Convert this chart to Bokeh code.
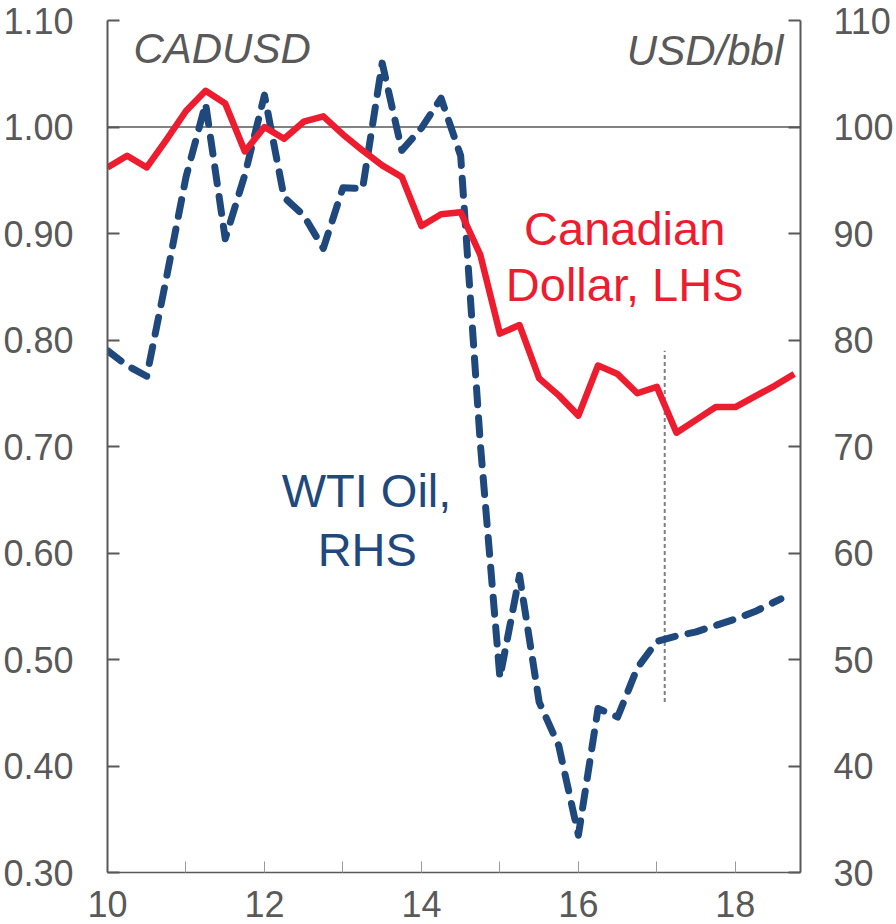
from bokeh.plotting import figure
from bokeh.models import LinearAxis, Range1d, FixedTicker, Span, Label, NumeralTickFormatter
from bokeh.embed import file_html
from bokeh.resources import INLINE

# ---- data (decimal years, quarterly) ----
cad_x = [10.00, 10.25, 10.50, 10.75, 11.00, 11.25, 11.50, 11.75,
         12.00, 12.25, 12.50, 12.75, 13.00, 13.25, 13.50, 13.75,
         14.00, 14.25, 14.50, 14.75, 15.00, 15.25, 15.50, 15.75,
         16.00, 16.25, 16.50, 16.75, 17.00, 17.25, 17.50, 17.75,
         18.00, 18.25, 18.50, 18.75]
cad_usd = [0.962, 0.973, 0.962, 0.988, 1.015, 1.034, 1.022, 0.977,
           1.000, 0.989, 1.005, 1.010, 0.993, 0.978, 0.964, 0.953,
           0.907, 0.918, 0.920, 0.880, 0.806, 0.814, 0.764, 0.748,
           0.729, 0.776, 0.768, 0.750, 0.756, 0.713, 0.725, 0.737,
           0.737, 0.747, 0.757, 0.768]

wti_x = [10.00, 10.25, 10.50, 10.75, 11.00, 11.25, 11.50, 11.75,
         12.00, 12.25, 12.50, 12.75, 13.00, 13.25, 13.50, 13.75,
         14.00, 14.25, 14.50, 14.75, 15.00, 15.25, 15.50, 15.75,
         16.00, 16.25, 16.50, 16.75, 17.00, 17.25, 17.50, 17.75,
         18.00, 18.25, 18.58]
wti_oil = [79.0, 77.6, 76.6, 85.8, 95.3, 102.2, 89.5, 95.5,
           103.0, 93.4, 91.7, 88.6, 94.3, 94.2, 106.0, 97.8,
           99.9, 102.7, 97.3, 70.3, 48.3, 57.9, 46.0, 41.9,
           33.5, 45.4, 44.6, 49.2, 51.7, 52.2, 52.6, 53.2,
           53.8, 54.5, 55.7]

x_ticks = [10, 11, 12, 13, 14, 15, 16, 17, 18]
x_tick_labels = {10: "10", 11: "", 12: "12", 13: "", 14: "14",
                 15: "", 16: "16", 17: "", 18: "18"}
left_ticks = [0.30, 0.40, 0.50, 0.60, 0.70, 0.80, 0.90, 1.00, 1.10]
right_ticks = [30, 40, 50, 60, 70, 80, 90, 100, 110]

forecast_x = [17.1]
forecast_y0 = [0.46]
forecast_y1 = [0.79]

RED = "#ED1C2E"
BLUE = "#1F497D"
GRAY = "#595959"
FONT = "Liberation Sans"

p = figure(width=896, height=924,
           x_range=Range1d(10, 18.83), y_range=Range1d(0.30, 1.10),
           output_backend="svg", toolbar_location=None,
           min_border_left=107, min_border_right=94,
           min_border_top=20, min_border_bottom=52)
p.extra_y_ranges = {"oil": Range1d(30, 110)}
p.outline_line_color = None
p.xgrid.visible = False
p.ygrid.visible = False

left = p.yaxis[0]
bottom = p.xaxis[0]
right = LinearAxis(y_range_name="oil")
p.add_layout(right, "right")

bottom.ticker = FixedTicker(ticks=x_ticks)
bottom.major_label_overrides = x_tick_labels
left.ticker = FixedTicker(ticks=left_ticks)
left.formatter = NumeralTickFormatter(format="0.00")
right.ticker = FixedTicker(ticks=right_ticks)

for ax in [bottom, left, right]:
    ax.axis_line_color = GRAY
    ax.axis_line_width = 2
    ax.major_tick_in = 12
    ax.major_tick_out = 0
    ax.minor_tick_in = 0
    ax.minor_tick_out = 0
    ax.major_tick_line_color = GRAY
    ax.major_tick_line_width = 2
    ax.major_label_text_font = FONT
    ax.major_label_text_font_size = "36px"
    ax.major_label_text_color = GRAY

bottom.axis_line_width = 1.5
bottom.major_tick_line_width = 1
bottom.major_tick_line_color = "#9a9a9a"
bottom.major_tick_in = 11

bottom.major_label_standoff = 18
left.major_label_standoff = 34
right.major_label_standoff = 33

p.add_layout(Span(location=1.0, dimension="width", line_color=GRAY,
                  line_width=1.5, level="underlay"))

p.segment(x0=forecast_x, y0=forecast_y0, x1=forecast_x, y1=forecast_y1,
          line_color="#808080", line_width=2, line_dash="4 3")

p.line(wti_x, wti_oil, y_range_name="oil", line_color=BLUE, line_width=7,
       line_dash="17 13", line_cap="round", line_join="round")
p.line(cad_x, cad_usd, line_color=RED, line_width=6.5, line_join="round")

p.add_layout(Label(x=10.33, y=1.074, text="CADUSD", text_font=FONT,
                   text_font_size="42px", text_font_style="italic",
                   text_color=GRAY, text_baseline="alphabetic"))
p.add_layout(Label(x=18.61, y=1.072, text="USD/bbl", text_font=FONT,
                   text_font_size="42px", text_font_style="italic",
                   text_color=GRAY, text_align="right", text_baseline="alphabetic"))
p.add_layout(Label(x=16.59, y=0.905, text="Canadian", text_font=FONT,
                   text_font_size="47px", text_color=RED,
                   text_align="center", text_baseline="alphabetic"))
p.add_layout(Label(x=16.59, y=0.852, text="Dollar, LHS", text_font=FONT,
                   text_font_size="47px", text_color=RED,
                   text_align="center", text_baseline="alphabetic"))
p.add_layout(Label(x=13.30, y=0.659, text="WTI Oil,", text_font=FONT,
                   text_font_size="47px", text_color=BLUE,
                   text_align="center", text_baseline="alphabetic"))
p.add_layout(Label(x=13.31, y=0.603, text="RHS", text_font=FONT,
                   text_font_size="47px", text_color=BLUE,
                   text_align="center", text_baseline="alphabetic"))

open("out.html", "w").write(file_html(p, INLINE))
